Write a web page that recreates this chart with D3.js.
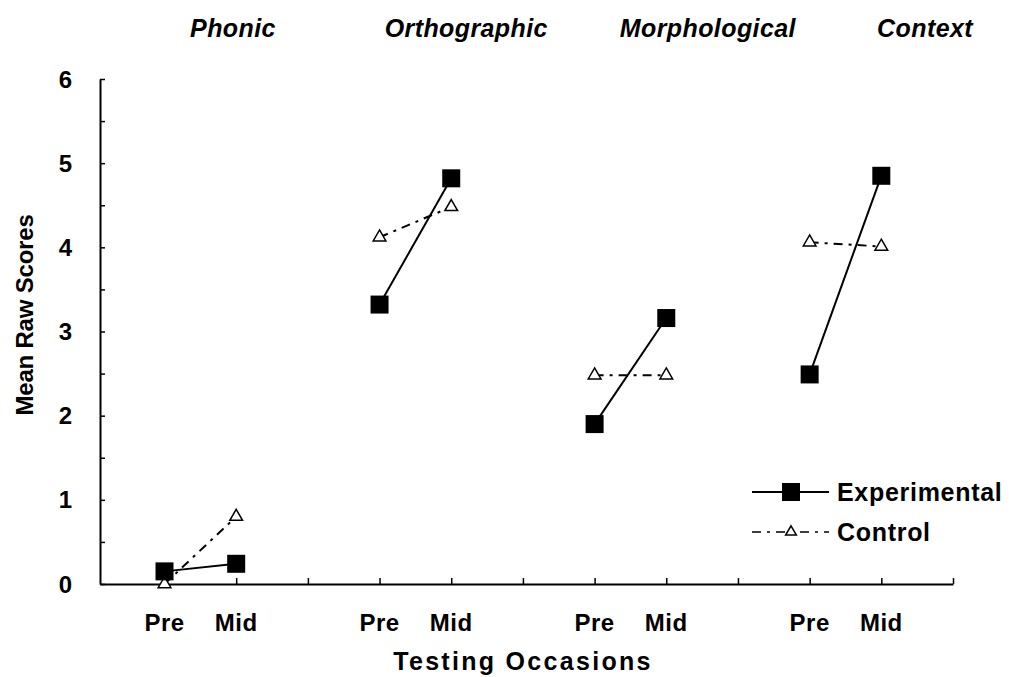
<!DOCTYPE html>
<html><head><meta charset="utf-8">
<script src="https://cdn.jsdelivr.net/npm/d3@7"></script>
<style>
body{margin:0;background:#fff;}
svg{display:block;}
text{font-family:"Liberation Sans",Arial,sans-serif;font-weight:bold;fill:#000;}
</style></head><body>
<svg id="c" width="1009" height="677"></svg>
<script>
// ---- data ----
const groups = ["Phonic","Orthographic","Morphological","Context"];
const occasions = ["Pre","Mid"];
const experimental = [0.15, 0.24, 3.32, 4.82, 1.90, 3.16, 2.49, 4.85];
const control      = [0.00, 0.80, 4.12, 4.48, 2.48, 2.48, 4.06, 4.01];
const yTicks = [0,1,2,3,4,5,6];
const seriesNames = ["Experimental","Control"];

// ---- layout ----
const svg = d3.select("#c");
const x = d3.scaleLinear().domain([-0.9, 11]).range([100, 953]);
const y = d3.scaleLinear().domain([0, 6]).range([584, 79]);
const slot = (g, o) => g*3 + o;
const headerPos = [0.955, 4.21, 7.58, 10.61];

// axes
const yAxis = d3.axisLeft(y).tickValues(d3.range(0, 6.01, 0.5)).tickSize(-5).tickFormat("").tickSizeOuter(0);
svg.append("g").attr("transform","translate(100,0)").call(yAxis)
  .call(g=>{g.selectAll("path").attr("stroke","#000").attr("stroke-width",2);g.selectAll("line").attr("stroke","#000").attr("stroke-width",1.5);});
svg.selectAll(".ylab").data(yTicks).join("text")
  .attr("x",72).attr("y",d=>y(d)+8.5).attr("text-anchor","end").attr("font-size",24).text(d=>d);

const xAxis = d3.axisBottom(x).tickValues(d3.range(0,12)).tickSize(-6).tickFormat("").tickSizeOuter(0);
svg.append("g").attr("transform","translate(0,584)").call(xAxis)
  .call(g=>{g.selectAll("path").attr("stroke","#000").attr("stroke-width",2);g.selectAll("line").attr("stroke","#000").attr("stroke-width",1.5);});

// x labels
const xl = [];
groups.forEach((g,gi)=>occasions.forEach((o,oi)=>xl.push({t:o,i:slot(gi,oi)})));
svg.selectAll(".xlab").data(xl).join("text")
  .attr("x",d=>x(d.i)).attr("y",631).attr("text-anchor","middle").attr("font-size",24).attr("letter-spacing",0.5).text(d=>d.t);

svg.append("text").attr("x",523).attr("y",670).attr("text-anchor","middle").attr("font-size",25).attr("letter-spacing",2.3).text("Testing Occasions");
svg.append("text").attr("transform","translate(33,315) rotate(-90)").attr("text-anchor","middle").attr("font-size",24).attr("letter-spacing",-0.2).text("Mean Raw Scores");

// headers
svg.selectAll(".hdr").data(groups).join("text")
  .attr("x",(d,i)=>x(headerPos[i])).attr("y",37).attr("text-anchor","middle")
  .attr("font-size",25).attr("letter-spacing",0.4).attr("font-style","italic").text(d=>d);

// series
const tri = d3.symbol().type(d3.symbolTriangle).size(70);
groups.forEach((g,gi)=>{
  const c = [0,1].map(o=>({x:x(slot(gi,o)), y:y(control[gi*2+o])}));
  const e = [0,1].map(o=>({x:x(slot(gi,o)), y:y(experimental[gi*2+o])}));
  svg.append("line").attr("x1",c[0].x).attr("y1",c[0].y).attr("x2",c[1].x).attr("y2",c[1].y)
    .attr("stroke","#000").attr("stroke-width",2).attr("stroke-dasharray","9,6,3,6");
  svg.append("line").attr("x1",e[0].x).attr("y1",e[0].y).attr("x2",e[1].x).attr("y2",e[1].y)
    .attr("stroke","#000").attr("stroke-width",2);
  c.forEach(p=>svg.append("path").attr("d",tri).attr("transform",`translate(${p.x},${p.y})`)
    .attr("fill","#fff").attr("stroke","#000").attr("stroke-width",1.5));
  e.forEach(p=>svg.append("rect").attr("x",p.x-9).attr("y",p.y-9).attr("width",18).attr("height",18).attr("fill","#000"));
});

// legend
const lg = svg.append("g");
const legY = [492, 532];
seriesNames.forEach((n,i)=>{
  const ly = legY[i];
  lg.append("line").attr("x1",752).attr("x2",829).attr("y1",ly).attr("y2",ly).attr("stroke","#000")
    .attr("stroke-width",i?1.5:2).attr("stroke-dasharray",i?"9,6,3,6":null);
  if(i===0) lg.append("rect").attr("x",782).attr("y",ly-9).attr("width",18).attr("height",18).attr("fill","#000");
  else lg.append("path").attr("d",d3.symbol().type(d3.symbolTriangle).size(50)).attr("transform",`translate(791,${ly})`)
    .attr("fill","#fff").attr("stroke","#000").attr("stroke-width",1.5);
  lg.append("text").attr("x",837).attr("y",ly+9).attr("font-size",25).attr("letter-spacing",0.7).text(n);
});
</script></body></html>
